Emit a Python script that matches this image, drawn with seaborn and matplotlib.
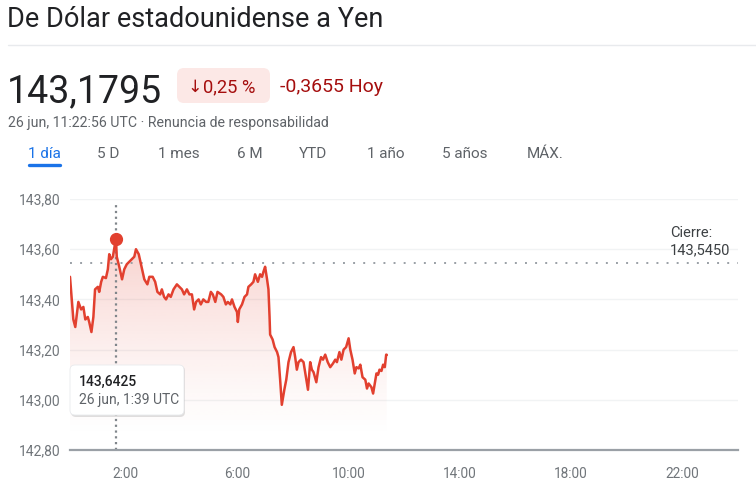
import numpy as np
import matplotlib
matplotlib.use("Agg")
import matplotlib.pyplot as plt
from matplotlib.patches import FancyBboxPatch
from matplotlib.transforms import IdentityTransform
import seaborn as sns

# ---------------- data ----------------
hours = [0.00, 0.12, 0.19, 0.30, 0.40, 0.48, 0.55, 0.64, 0.69, 0.77, 0.84, 0.90, 1.00, 1.05,
         1.12, 1.18, 1.29, 1.36, 1.41, 1.47, 1.54, 1.65, 1.68, 1.77, 1.87, 1.95, 2.04, 2.13,
         2.22, 2.31, 2.37, 2.47, 2.55, 2.67, 2.78, 2.85, 2.97, 3.06, 3.14, 3.24, 3.30, 3.38,
         3.45, 3.54, 3.62, 3.72, 3.84, 3.93, 4.02, 4.10, 4.20, 4.29, 4.38, 4.46, 4.53, 4.62,
         4.70, 4.79, 4.89, 4.97, 5.06, 5.13, 5.22, 5.30, 5.43, 5.51, 5.60, 5.67, 5.76, 5.82,
         5.91, 6.00, 6.03, 6.08, 6.18, 6.27, 6.36, 6.41, 6.51, 6.59, 6.65, 6.75, 6.83, 6.90,
         6.95, 7.01, 7.08, 7.13, 7.17, 7.19, 7.28, 7.35, 7.44, 7.49, 7.55, 7.61, 7.70, 7.77,
         7.85, 7.94, 8.03, 8.09, 8.15, 8.21, 8.30, 8.39, 8.49, 8.55, 8.63, 8.69, 8.75, 8.85,
         8.93, 9.02, 9.09, 9.17, 9.26, 9.35, 9.45, 9.53, 9.59, 9.68, 9.75, 9.83, 9.92, 10.01,
         10.07, 10.15, 10.23, 10.29, 10.37, 10.43, 10.51, 10.61, 10.67, 10.73, 10.83, 10.89,
         10.95, 11.01, 11.07, 11.12, 11.19, 11.25, 11.31, 11.36, 11.38]
rates = [143.49, 143.32, 143.29, 143.39, 143.36, 143.37, 143.32, 143.33, 143.31, 143.27, 143.33,
         143.44, 143.45, 143.43, 143.47, 143.49, 143.485, 143.52, 143.58, 143.56, 143.57, 143.6425,
         143.57, 143.53, 143.48, 143.52, 143.54, 143.55, 143.56, 143.57, 143.60, 143.58, 143.54,
         143.48, 143.46, 143.49, 143.49, 143.47, 143.43, 143.42, 143.44, 143.41, 143.40, 143.42,
         143.41, 143.44, 143.46, 143.45, 143.44, 143.42, 143.44, 143.42, 143.42, 143.36, 143.39,
         143.40, 143.38, 143.40, 143.39, 143.39, 143.43, 143.42, 143.39, 143.43, 143.42, 143.41,
         143.38, 143.39, 143.38, 143.40, 143.37, 143.35, 143.31, 143.36, 143.38, 143.41, 143.42,
         143.45, 143.46, 143.47, 143.50, 143.47, 143.50, 143.49, 143.51, 143.53, 143.48, 143.44,
         143.33, 143.26, 143.24, 143.21, 143.19, 143.17, 143.08, 142.98, 143.04, 143.08, 143.15,
         143.19, 143.21, 143.17, 143.12, 143.15, 143.16, 143.15, 143.08, 143.04, 143.15, 143.12,
         143.11, 143.07, 143.13, 143.17, 143.16, 143.18, 143.15, 143.13, 143.145, 143.16, 143.15,
         143.19, 143.16, 143.20, 143.21, 143.245, 143.20, 143.16, 143.105, 143.13, 143.125,
         143.14, 143.09, 143.08, 143.045, 143.065, 143.05, 143.025, 143.065, 143.105, 143.10,
         143.12, 143.115, 143.14, 143.13, 143.18, 143.1795]
y_ticks = [142.80, 143.00, 143.20, 143.40, 143.60, 143.80]
y_tick_labels = ["142,80", "143,00", "143,20", "143,40", "143,60", "143,80"]
x_ticks = [2, 6, 10, 14, 18, 22]
x_tick_labels = ["2:00", "6:00", "10:00", "14:00", "18:00", "22:00"]
close_value = 143.545
close_label = "143,5450"
hover_hour = 1.65
hover_value = 143.6425
hover_label = "143,6425"
hover_time = "26 jun, 1:39 UTC"
tabs = ["1 día", "5 D", "1 mes", "6 M", "YTD", "1 año", "5 años", "MÁX."]
tab_x = [28, 97, 158, 237, 299, 367, 442, 527]

# ---------------- style ----------------
sns.set_theme(style="white")
plt.rcParams["font.family"] = ["Roboto", "DejaVu Sans"]

W, H = 756, 494
fig = plt.figure(figsize=(W / 100, H / 100), dpi=100)
fig.patch.set_facecolor("white")

L, R, T, B = 70, 738, 199, 450
ax = fig.add_axes([L / W, 1 - B / H, (R - L) / W, (B - T) / H])
ax.set_facecolor("white")

RED = "#e2402f"
GRAY = "#70757a"

def T_(x, y, s, **kw):
    return fig.text(x / W, 1 - y / H, s, **kw)

# gridlines
for v in y_ticks[1:]:
    ax.axhline(v, color="#f1f3f4", lw=1.0, zorder=0)

# gradient fill under the line
poly = ax.fill_between(hours, rates, 142.8, color="none", lw=0)
path = poly.get_paths()[0]
n = 256
lev = np.linspace(142.8, 143.65, n)
alpha = np.clip((lev - 142.84) / (143.65 - 142.84), 0, 1) ** 1.3 * 0.24
img = np.zeros((n, 1, 4))
img[..., 0] = 226 / 255
img[..., 1] = 64 / 255
img[..., 2] = 47 / 255
img[:, 0, 3] = alpha
im = ax.imshow(img, extent=[0, 24, 142.8, 143.65], origin="lower", aspect="auto",
               zorder=1, interpolation="bilinear")
im.set_clip_path(path, transform=ax.transData)

# line
sns.lineplot(x=hours, y=rates, ax=ax, color=RED, lw=1.8, zorder=3, estimator=None,
             sort=False)

# closing reference (dotted)
ax.axhline(close_value, color="#9aa0a6", lw=1.4, ls=(0, (1, 4.2)), zorder=2)

# hover vertical dotted line + marker
ax.plot([hover_hour, hover_hour], [142.8, 143.785], color="#80868b", lw=1.6,
        ls=(0, (1, 1.6)), zorder=2)
ax.plot([hover_hour], [hover_value], "o", color=RED, ms=8.5, zorder=4)

ax.set_xlim(0, 24)
ax.set_ylim(142.8, 143.8)
ax.set_yticks(y_ticks)
ax.set_yticklabels(y_tick_labels)
ax.set_xticks(x_ticks)
ax.set_xticklabels(x_tick_labels)
ax.tick_params(axis="y", length=0, pad=7, labelsize=10, labelcolor=GRAY)
ax.tick_params(axis="x", length=4, width=1.6, color="#5f6368", pad=8, labelsize=9.8,
               labelcolor=GRAY, direction="out")
for s in ["top", "right", "left"]:
    ax.spines[s].set_visible(False)
ax.spines["bottom"].set_color("#9aa0a6")
ax.spines["bottom"].set_linewidth(1.6)
ax.set_xlabel("")
ax.set_ylabel("")

# close label
T_(670, 237, "Cierre:", fontsize=10.5, color="#3c4043", va="baseline")
T_(670, 254, close_label, fontsize=10.5, color="#3c4043", va="baseline")

# tooltip
idt = IdentityTransform()
shadow = FancyBboxPatch((71, H - 417), 114, 51, boxstyle="round,pad=0,rounding_size=5",
                        transform=idt, facecolor="#000000", alpha=0.12, edgecolor="none",
                        zorder=9)
box = FancyBboxPatch((70, H - 415), 114, 50, boxstyle="round,pad=0,rounding_size=5",
                     transform=idt, facecolor="white", edgecolor="#e8eaed", lw=0.6, zorder=10)
fig.add_artist(shadow)
fig.add_artist(box)
T_(79, 386, hover_label, fontsize=10, color="#202124", va="baseline", zorder=11,
   fontweight="medium")
T_(79, 404, hover_time, fontsize=10, color="#5f6368", va="baseline", zorder=11)

# header
T_(7, 27, "De Dólar estadounidense a Yen", fontsize=19.5, color="#202124", va="baseline")
fig.add_artist(plt.Line2D([8 / W, 1], [1 - 45 / H, 1 - 45 / H], transform=fig.transFigure,
                          color="#e8eaed", lw=1))
T_(7, 102, "143,1795", fontsize=27, color="#202124", va="baseline")
pill = FancyBboxPatch((177, H - 103), 93, 35, boxstyle="round,pad=0,rounding_size=7",
                      transform=idt, facecolor="#fce8e6", edgecolor="none", zorder=1)
fig.add_artist(pill)
T_(187, 92, "↓", fontsize=12.5, color="#a50e0e", va="baseline", zorder=2,
   family=["DejaVu Sans"])
T_(203, 92, "0,25 %", fontsize=13.2, color="#a50e0e", va="baseline", zorder=2)
T_(280, 92, "-0,3655 Hoy", fontsize=14, color="#a50e0e", va="baseline")
T_(8, 127, "26 jun, 11:22:56 UTC · Renuncia de responsabilidad", fontsize=10.2,
   color="#5f6368", va="baseline")

for i, (name, xx) in enumerate(zip(tabs, tab_x)):
    T_(xx, 158, name, fontsize=11, color="#1a73e8" if i == 0 else "#5f6368", va="baseline")
fig.add_artist(plt.Line2D([29 / W, 60 / W], [1 - 165 / H, 1 - 165 / H],
                          transform=fig.transFigure, color="#1a73e8", lw=2.4,
                          solid_capstyle="round"))

fig.savefig("out.png", dpi=100, facecolor="white")
